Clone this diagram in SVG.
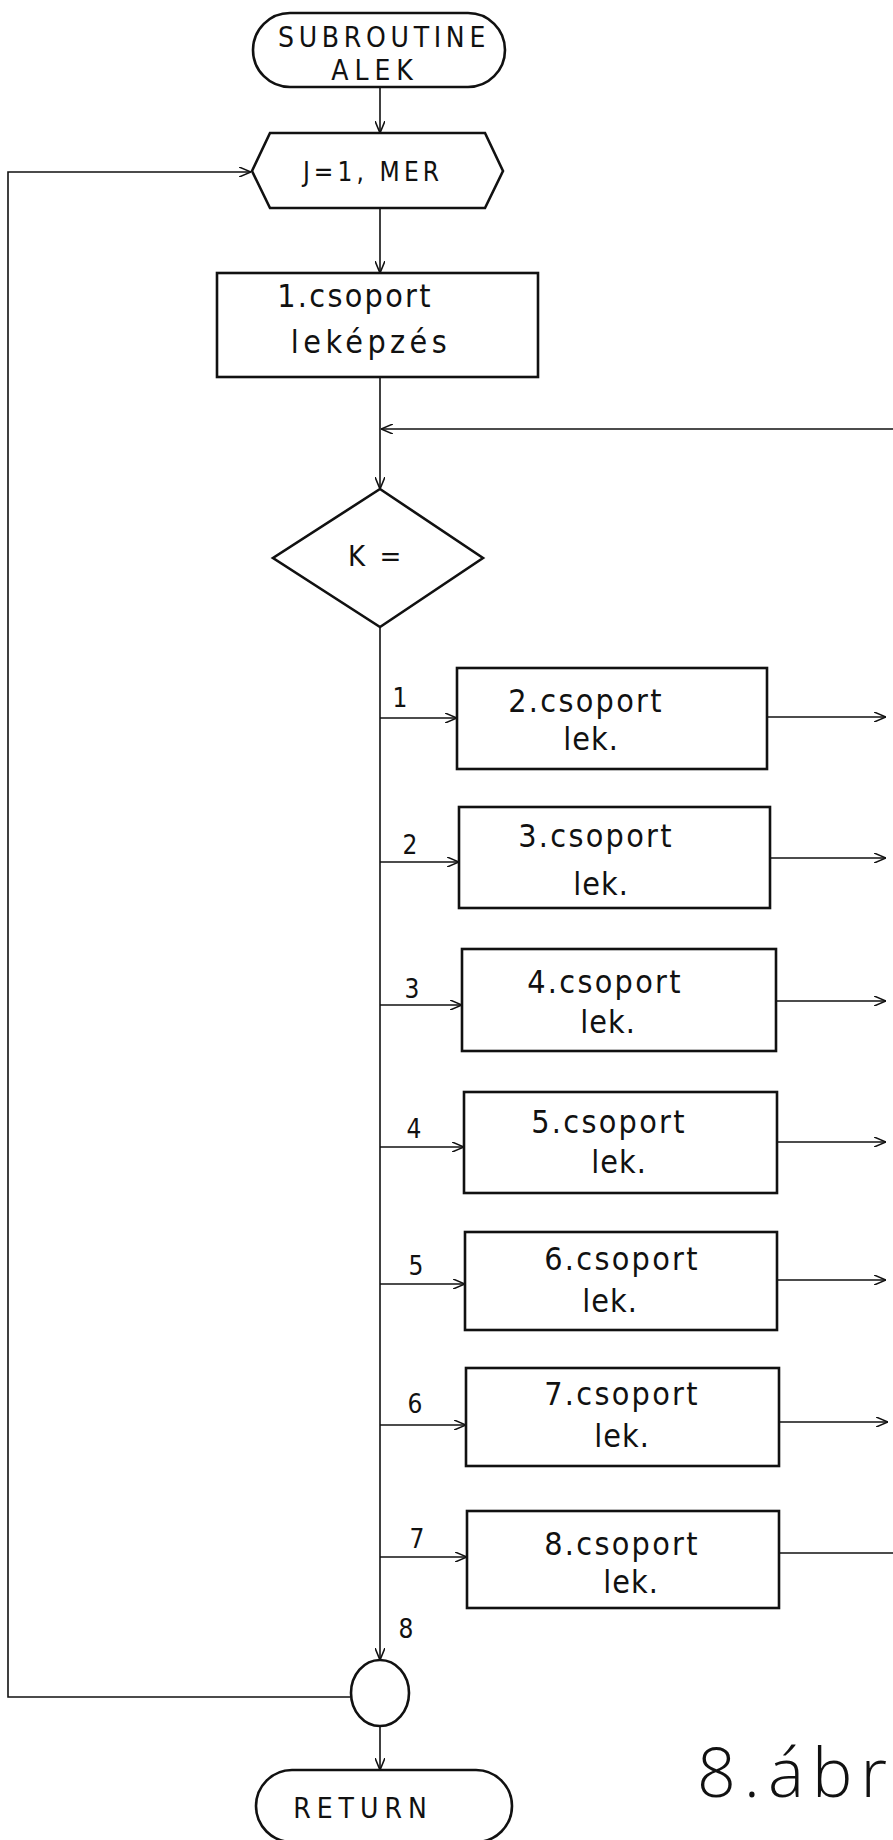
<svg xmlns="http://www.w3.org/2000/svg" width="893" height="1840" viewBox="0 0 893 1840">
<style>
.shape{fill:#fff;stroke:#111;stroke-width:2.6}
.txt{font-family:"DejaVu Sans Condensed","Liberation Sans",sans-serif;font-size:32px;fill:#111;letter-spacing:2.3px;text-anchor:middle}
.lbl{font-family:"DejaVu Sans Condensed","Liberation Sans",sans-serif;font-size:26px;fill:#111;text-anchor:middle}
.con{fill:none;stroke:#111;stroke-width:1.6}
.hand{font-family:"Open Sans","DejaVu Sans",sans-serif;font-weight:300;font-size:68px;fill:#111;letter-spacing:8px}
</style>
<defs>
<marker id="arr" viewBox="0 0 12 10" refX="12" refY="5" markerWidth="12" markerHeight="10" markerUnits="userSpaceOnUse" orient="auto">
<path d="M0,0 L12,5 L0,10" fill="none" stroke="#111" stroke-width="1.6"/>
</marker>
</defs>
<rect width="893" height="1840" fill="#fff"/>

<g id="connectors">
<line class="con" x1="380" y1="87" x2="380" y2="133" marker-end="url(#arr)"/>
<line class="con" x1="380" y1="208" x2="380" y2="273" marker-end="url(#arr)"/>
<line class="con" x1="380" y1="377" x2="380" y2="489" marker-end="url(#arr)"/>
<line class="con" x1="893" y1="429" x2="381" y2="429" marker-end="url(#arr)"/>
<line class="con" x1="380" y1="627" x2="380" y2="1660" marker-end="url(#arr)"/>
<line class="con" x1="380" y1="718" x2="457" y2="718" marker-end="url(#arr)"/>
<line class="con" x1="380" y1="862" x2="459" y2="862" marker-end="url(#arr)"/>
<line class="con" x1="380" y1="1005" x2="462" y2="1005" marker-end="url(#arr)"/>
<line class="con" x1="380" y1="1147" x2="464" y2="1147" marker-end="url(#arr)"/>
<line class="con" x1="380" y1="1284" x2="465" y2="1284" marker-end="url(#arr)"/>
<line class="con" x1="380" y1="1425" x2="466" y2="1425" marker-end="url(#arr)"/>
<line class="con" x1="380" y1="1557" x2="467" y2="1557" marker-end="url(#arr)"/>
<line class="con" x1="767" y1="717" x2="886" y2="717" marker-end="url(#arr)"/>
<line class="con" x1="770" y1="858" x2="886" y2="858" marker-end="url(#arr)"/>
<line class="con" x1="776" y1="1001" x2="886" y2="1001" marker-end="url(#arr)"/>
<line class="con" x1="777" y1="1142" x2="886" y2="1142" marker-end="url(#arr)"/>
<line class="con" x1="777" y1="1280" x2="886" y2="1280" marker-end="url(#arr)"/>
<line class="con" x1="779" y1="1422" x2="888" y2="1422" marker-end="url(#arr)"/>
<line class="con" x1="779" y1="1553" x2="893" y2="1553"/>
<polyline class="con" points="350,1697 8,1697 8,172 251,172" marker-end="url(#arr)"/>
<line class="con" x1="380" y1="1726" x2="380" y2="1770" marker-end="url(#arr)"/>
<text class="lbl" x="400" y="707">1</text>
<text class="lbl" x="410" y="854">2</text>
<text class="lbl" x="412" y="998">3</text>
<text class="lbl" x="414" y="1138">4</text>
<text class="lbl" x="416" y="1275">5</text>
<text class="lbl" x="415" y="1413">6</text>
<text class="lbl" x="417" y="1548">7</text>
<text class="lbl" x="406" y="1638">8</text>
</g>

<g id="start">
<rect class="shape" x="253" y="13" width="252" height="74" rx="37" ry="37"/>
<text class="txt" x="384" y="47" style="font-size:28px;letter-spacing:4.7px">SUBROUTINE</text>
<text class="txt" x="375" y="80" style="font-size:28px;letter-spacing:6px">ALEK</text>
</g>

<g id="loop">
<polygon class="shape" points="252,171 270,133 485,133 503,171 485,208 270,208"/>
<text class="txt" x="373" y="181" style="font-size:26px;letter-spacing:4.1px">J=1, MER</text>
</g>

<g id="group1">
<rect class="shape" x="217" y="273" width="321" height="104"/>
<text class="txt" x="355" y="307">1.csoport</text>
<text class="txt" x="371" y="353" style="letter-spacing:4.4px">leképzés</text>
</g>

<g id="decision">
<polygon class="shape" points="380,489 483,558 380,627 273,558"/>
<text class="txt" x="348" y="566" style="font-size:29px;letter-spacing:3px;text-anchor:start">K =</text>
</g>

<g id="group2">
<rect class="shape" x="457" y="668" width="310" height="101"/>
<text class="txt" x="586" y="712">2.csoport</text>
<text class="txt" x="591" y="750" style="letter-spacing:1px">lek.</text>
</g>
<g id="group3">
<rect class="shape" x="459" y="807" width="311" height="101"/>
<text class="txt" x="596" y="847">3.csoport</text>
<text class="txt" x="601" y="895" style="letter-spacing:1px">lek.</text>
</g>
<g id="group4">
<rect class="shape" x="462" y="949" width="314" height="102"/>
<text class="txt" x="605" y="993">4.csoport</text>
<text class="txt" x="608" y="1033" style="letter-spacing:1px">lek.</text>
</g>
<g id="group5">
<rect class="shape" x="464" y="1092" width="313" height="101"/>
<text class="txt" x="609" y="1133">5.csoport</text>
<text class="txt" x="619" y="1173" style="letter-spacing:1px">lek.</text>
</g>
<g id="group6">
<rect class="shape" x="465" y="1232" width="312" height="98"/>
<text class="txt" x="622" y="1270">6.csoport</text>
<text class="txt" x="610" y="1312" style="letter-spacing:1px">lek.</text>
</g>
<g id="group7">
<rect class="shape" x="466" y="1368" width="313" height="98"/>
<text class="txt" x="622" y="1405">7.csoport</text>
<text class="txt" x="622" y="1447" style="letter-spacing:1px">lek.</text>
</g>
<g id="group8">
<rect class="shape" x="467" y="1511" width="312" height="97"/>
<text class="txt" x="622" y="1555">8.csoport</text>
<text class="txt" x="631" y="1593" style="letter-spacing:1px">lek.</text>
</g>

<g id="connector-circle">
<ellipse class="shape" cx="380" cy="1693" rx="29" ry="33"/>
</g>

<g id="return">
<rect class="shape" x="256" y="1770" width="256" height="72" rx="36" ry="36"/>
<text class="txt" x="363" y="1818" style="font-size:28px;letter-spacing:6px">RETURN</text>
</g>

<text class="hand" x="697" y="1797">8.ábr</text>
</svg>
